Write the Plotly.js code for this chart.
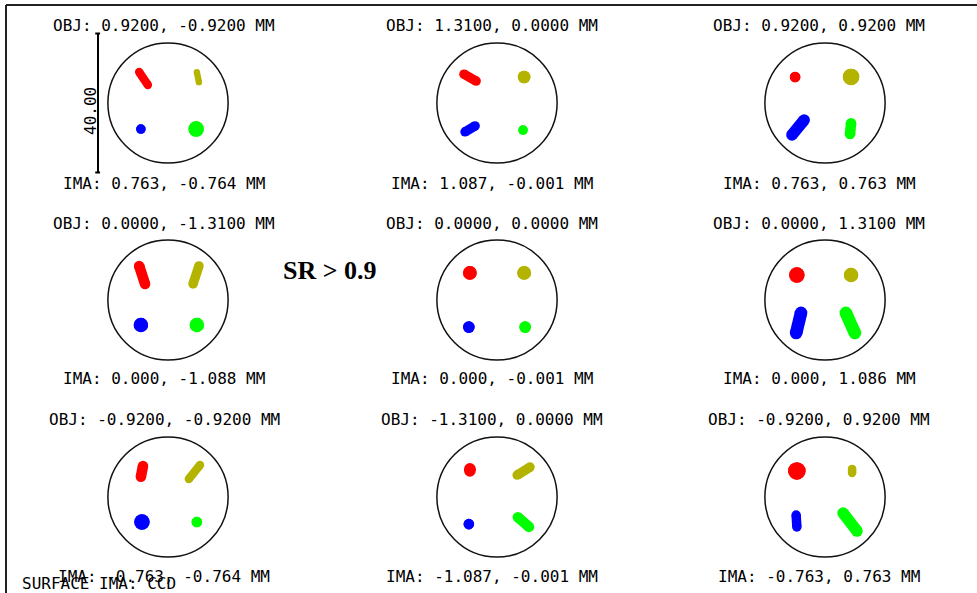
<!DOCTYPE html>
<html><head><meta charset="utf-8">
<script src="https://cdn.plot.ly/plotly-3.0.1.min.js"></script>
<style>html,body{margin:0;padding:0;background:#fff;overflow:hidden}</style>
</head><body><div id="chart" style="width:977px;height:593px"></div>
<script>
// Field labels, panels in reading order (row by row)
const objLabels = [
  "OBJ: 0.9200, -0.9200 MM", "OBJ: 1.3100, 0.0000 MM", "OBJ: 0.9200, 0.9200 MM",
  "OBJ: 0.0000, -1.3100 MM", "OBJ: 0.0000, 0.0000 MM", "OBJ: 0.0000, 1.3100 MM",
  "OBJ: -0.9200, -0.9200 MM", "OBJ: -1.3100, 0.0000 MM", "OBJ: -0.9200, 0.9200 MM"
];
const imaLabels = [
  "IMA: 0.763, -0.764 MM", "IMA: 1.087, -0.001 MM", "IMA: 0.763, 0.763 MM",
  "IMA: 0.000, -1.088 MM", "IMA: 0.000, -0.001 MM", "IMA: 0.000, 1.086 MM",
  "IMA: -0.763, -0.764 MM", "IMA: -1.087, -0.001 MM", "IMA: -0.763, 0.763 MM"
];
const airyRadius = 17.3;      // µm
const scaleBarLength = 40;    // µm
const scaleBarLabel = "40.00";
const surfaceLabel = "SURFACE IMA: CCD";
const noteText = "SR &gt; 0.9";

// Spots: [xStart, yStart, xEnd, yEnd, blurDiameter] in µm, panels in reading order
const redSpots = [
  [-8.3, 8.9, -5.8, 5.2, 2.0], [-9.5, 8.3, -6.0, 6.3, 2.3], [-8.6, 7.5, -8.6, 7.5, 2.6],
  [-8.3, 9.8, -6.6, 4.6, 2.6], [-7.8, 7.8, -7.8, 7.8, 3.5], [-8.1, 7.2, -8.1, 7.2, 4.0],
  [-7.2, 8.9, -7.8, 5.8, 2.6], [-7.8, 8.1, -7.8, 7.5, 2.9], [-8.1, 7.5, -8.1, 7.5, 4.6]
];
const yellowSpots = [
  [8.3, 8.9, 8.9, 6.0, 1.4], [7.8, 7.5, 7.8, 7.5, 3.2], [7.5, 7.5, 7.5, 7.5, 4.3],
  [8.9, 9.8, 7.2, 4.6, 2.3], [7.8, 7.8, 7.8, 7.8, 3.5], [7.5, 7.2, 7.5, 7.2, 3.7],
  [9.2, 9.2, 6.0, 5.2, 2.0], [5.8, 6.3, 9.5, 8.6, 2.3], [7.8, 8.1, 7.8, 6.9, 2.0]
];
const blueSpots = [
  [-7.8, -7.5, -7.8, -7.5, 2.3], [-9.2, -8.3, -6.3, -6.6, 2.3], [-9.5, -9.2, -6.0, -4.9, 2.9],
  [-7.8, -7.2, -7.8, -7.2, 3.7], [-8.1, -7.8, -8.1, -7.8, 2.9], [-6.9, -3.7, -8.3, -9.5, 3.2],
  [-7.5, -7.2, -7.5, -7.2, 4.0], [-8.1, -7.8, -8.1, -7.8, 2.6], [-8.3, -5.2, -8.1, -8.6, 2.3]
];
const greenSpots = [
  [8.1, -7.5, 8.1, -7.5, 4.0], [7.5, -7.8, 7.5, -7.8, 2.3], [7.5, -5.8, 7.2, -8.9, 2.6],
  [8.3, -7.2, 8.3, -7.2, 3.7], [8.1, -7.8, 8.1, -7.8, 2.9], [6.0, -3.7, 8.6, -9.5, 3.2],
  [8.3, -7.2, 8.3, -7.2, 2.6], [6.0, -5.8, 9.2, -8.6, 2.6], [5.2, -4.6, 9.2, -9.8, 2.9]
];

// ---- layout ----
const W = 977, H = 593;
const pxPerUm = 3.475;
const halfRange = 25;
const halfPx = halfRange * pxPerUm;
const colCenters = [168, 497, 825];
const rowCenters = [103, 300, 497];
const spotSets = [
  {spots: redSpots, color: "#ff0000"},
  {spots: yellowSpots, color: "#b4b400"},
  {spots: blueSpots, color: "#0000ff"},
  {spots: greenSpots, color: "#00ff00"}
];
const monoFont = {family: "DejaVu Sans Mono", size: 16, color: "#000"};

const traces = [];
const layout = {
  width: W, height: H,
  margin: {l: 0, r: 0, t: 0, b: 0},
  paper_bgcolor: "#fff", plot_bgcolor: "#fff",
  showlegend: false,
  shapes: [], annotations: []
};

for (let p = 0; p < 9; p++) {
  const r = Math.floor(p / 3), c = p % 3;
  const suffix = p === 0 ? "" : String(p + 1);
  const cx = colCenters[c], cy = rowCenters[r];
  const ax = {
    range: [-halfRange, halfRange], visible: false, showgrid: false,
    zeroline: false, fixedrange: true
  };
  layout["xaxis" + suffix] = Object.assign({}, ax, {
    domain: [(cx - halfPx) / W, (cx + halfPx) / W], anchor: "y" + suffix
  });
  layout["yaxis" + suffix] = Object.assign({}, ax, {
    domain: [(H - cy - halfPx) / H, (H - cy + halfPx) / H], anchor: "x" + suffix
  });
  const xr = "x" + suffix, yr = "y" + suffix;
  layout.shapes.push({
    type: "circle", xref: xr, yref: yr,
    x0: -airyRadius, x1: airyRadius, y0: -airyRadius, y1: airyRadius,
    line: {color: "#111", width: 1.5}
  });
  spotSets.forEach(set => {
    const s = set.spots[p];
    const size = s[4] * pxPerUm + 1.5;
    traces.push({
      type: "scatter", mode: "lines+markers",
      x: [s[0], s[2]], y: [s[1], s[3]],
      xaxis: xr, yaxis: yr,
      line: {color: set.color, width: size},
      marker: {color: set.color, size: size, line: {width: 0}},
      hoverinfo: "skip"
    });
  });
  const objY = [25, 223, 419][r];
  const imaY = [183, 378, 576][r];
  const textX = [164, 492, 819][c];
  layout.annotations.push({
    xref: "paper", yref: "paper", x: textX / W, y: 1 - objY / H,
    text: objLabels[p], showarrow: false, xanchor: "center", yanchor: "middle",
    font: monoFont
  });
  layout.annotations.push({
    xref: "paper", yref: "paper", x: textX / W, y: 1 - imaY / H,
    text: imaLabels[p], showarrow: false, xanchor: "center", yanchor: "middle",
    font: monoFont
  });
  if (p === 0) {
    const barX = (98 - cx) / pxPerUm;
    const h = scaleBarLength / 2;
    layout.shapes.push({type: "line", xref: xr, yref: yr, x0: barX, x1: barX, y0: -h, y1: h,
      line: {color: "#000", width: 2}});
    layout.shapes.push({type: "line", xref: xr, yref: yr, x0: barX - 0.8, x1: barX + 0.6, y0: h, y1: h,
      line: {color: "#000", width: 2}});
    layout.shapes.push({type: "line", xref: xr, yref: yr, x0: barX - 0.8, x1: barX + 0.6, y0: -h, y1: -h,
      line: {color: "#000", width: 2}});
    layout.annotations.push({
      xref: "paper", yref: "paper", x: 90 / W, y: 1 - 111 / H,
      text: scaleBarLabel, textangle: -90, showarrow: false,
      xanchor: "center", yanchor: "middle", font: monoFont
    });
  }
}

// frame
layout.shapes.push({type: "line", xref: "paper", yref: "paper",
  x0: 6 / W, x1: 1, y0: 1 - 5 / H, y1: 1 - 5 / H, line: {color: "#222", width: 2}});
layout.shapes.push({type: "line", xref: "paper", yref: "paper",
  x0: 6 / W, x1: 6 / W, y0: 0, y1: 1 - 5 / H, line: {color: "#222", width: 2}});

layout.annotations.push({
  xref: "paper", yref: "paper", x: 20 / W, y: 1 - 583 / H,
  text: surfaceLabel, showarrow: false, xanchor: "left", yanchor: "middle",
  font: monoFont
});
layout.annotations.push({
  xref: "paper", yref: "paper", x: 330 / W, y: 1 - 270 / H,
  text: noteText, showarrow: false, xanchor: "center", yanchor: "middle",
  font: {family: "Liberation Serif", size: 26, color: "#000", weight: 700}
});

Plotly.newPlot("chart", traces, layout, {staticPlot: true, displayModeBar: false});
</script>
</body></html>
